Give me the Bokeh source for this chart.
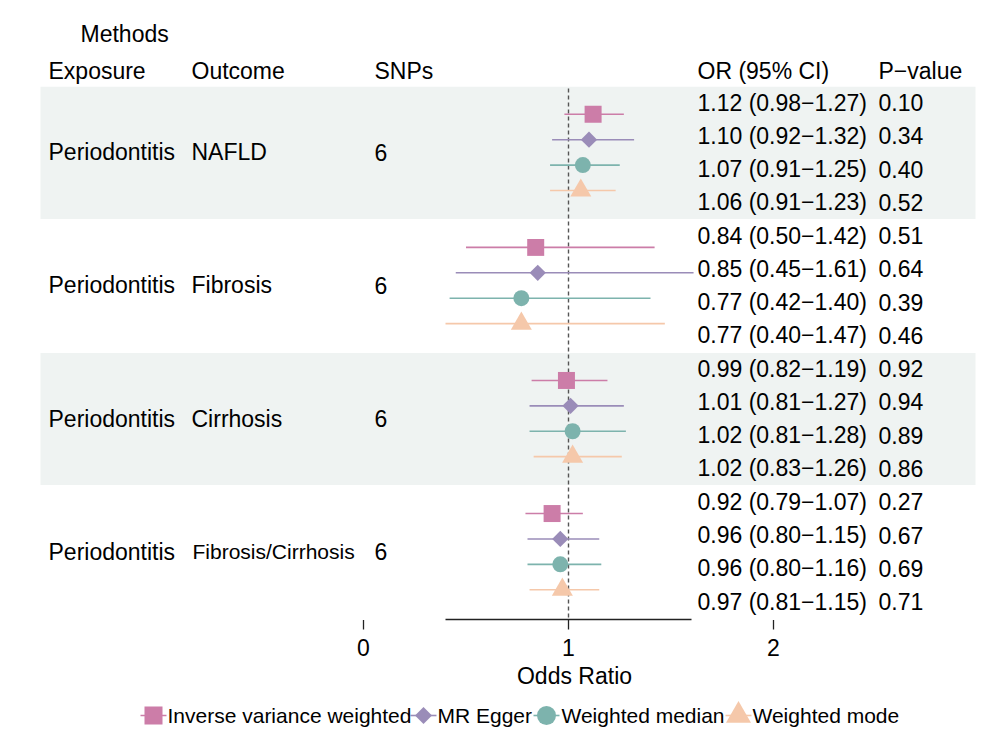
import numpy as np
from bokeh.plotting import figure
from bokeh.models import Range1d
from bokeh.core.properties import value
from bokeh.embed import file_html
from bokeh.resources import INLINE

# ---------------- data ----------------
exposures = ["Periodontitis", "Periodontitis", "Periodontitis", "Periodontitis"]
outcomes = ["NAFLD", "Fibrosis", "Cirrhosis", "Fibrosis/Cirrhosis"]
snps = [6, 6, 6, 6]
methods = ["Inverse variance weighted", "MR Egger", "Weighted median", "Weighted mode"]
or_est = [[1.12, 1.10, 1.07, 1.06],
          [0.84, 0.85, 0.77, 0.77],
          [0.99, 1.01, 1.02, 1.02],
          [0.92, 0.96, 0.96, 0.97]]
or_low = [[0.98, 0.92, 0.91, 0.91],
          [0.50, 0.45, 0.42, 0.40],
          [0.82, 0.81, 0.81, 0.83],
          [0.79, 0.80, 0.80, 0.81]]
or_high = [[1.27, 1.32, 1.25, 1.23],
           [1.42, 1.61, 1.40, 1.47],
           [1.19, 1.27, 1.28, 1.26],
           [1.07, 1.15, 1.16, 1.15]]
p_values = [[0.10, 0.34, 0.40, 0.52],
            [0.51, 0.64, 0.39, 0.46],
            [0.92, 0.94, 0.89, 0.86],
            [0.27, 0.67, 0.69, 0.71]]
col_headers = ["Exposure", "Outcome", "SNPs", "OR (95% CI)", "P\u2212value"]
top_header = "Methods"
x_ticks = [0, 1, 2]
x_tick_labels = ["0", "1", "2"]
x_lim = [0.4, 1.6]
ref_value = 1
x_label = "Odds Ratio"

# ---------------- style ----------------
method_colors = ["#CC7DA8", "#9A8CB8", "#7DB3AD", "#F5C8AA"]
method_markers = ["square", "square", "circle", "triangle"]
method_angles = [0, np.pi / 4, 0, 0]
method_sizes = [17, 11.5, 16, 21]
legend_sizes = [18, 12, 19, 25]
band_color = "#eff3f2"
FONT = value("Liberation Sans")
FS = "23px"

W, H = 984, 738
PAGE = 0
XPX0, XPPU = 363.0, 205.0  # screenshot px of x=0, px per OR unit


def dx(px):
    return (px - XPX0) / XPPU


def dy(px):
    return -float(px)


p = figure(width=W, height=H, output_backend="svg", toolbar_location=None,
           x_range=Range1d(dx(PAGE), dx(PAGE + W)),
           y_range=Range1d(dy(PAGE + H), dy(PAGE)),
           min_border=0, x_axis_location=None, y_axis_location=None)
p.grid.visible = False
p.outline_line_color = None
p.background_fill_color = "white"

ROW0, ROWH = 102.0, 33.27
n_groups = len(outcomes)
n_meth = len(methods)

# background bands for alternating groups
band_l, band_r, band_b, band_t = [], [], [], []
for g in range(n_groups):
    if g % 2 == 0:
        top = ROW0 + ROWH * (4 * g) - ROWH / 2 + 1
        bot = ROW0 + ROWH * (4 * g + 3) + ROWH / 2
        band_l.append(dx(40)); band_r.append(dx(975))
        band_t.append(dy(top)); band_b.append(dy(bot))
p.quad(left=band_l, right=band_r, top=band_t, bottom=band_b,
       fill_color=band_color, line_color=None)


def txt(xs, ys, texts, size=FS, align="left"):
    p.text(x=xs, y=ys, text=texts, text_font=FONT, text_font_size=size,
           text_baseline="middle", text_align=align, text_color="black")


# header texts
txt([dx(80)], [dy(33)], [top_header])
hx = [48, 191, 374, 697, 878]
txt([dx(v) for v in hx], [dy(70)] * len(col_headers), col_headers)

# group texts
gy = [dy(ROW0 + ROWH * (4 * g + 1.5)) for g in range(n_groups)]
txt([dx(48)] * n_groups, gy, exposures)
txt([dx(191)] * 3, gy[:3], outcomes[:3])
txt([dx(192)], gy[3:], outcomes[3:], size="21px")
txt([dx(374)] * n_groups, gy, [str(s) for s in snps])

# OR / p-value texts per row
or_txt, p_txt, ry = [], [], []
for g in range(n_groups):
    for m in range(n_meth):
        or_txt.append(f"{or_est[g][m]:.2f} ({or_low[g][m]:.2f}\u2212{or_high[g][m]:.2f})")
        p_txt.append(f"{p_values[g][m]:.2f}")
        ry.append(dy(ROW0 + ROWH * (4 * g + m)))
txt([dx(697)] * len(or_txt), ry, or_txt)
txt([dx(878)] * len(p_txt), ry, p_txt)

# reference dashed line
p.segment(x0=[ref_value], x1=[ref_value], y0=[dy(88)], y1=[dy(619)],
          line_color="#555555", line_width=1.4, line_dash="4 3")

# CI lines and markers
MSTEP = 25.4
for m in range(n_meth):
    xs = [or_est[g][m] for g in range(n_groups)]
    lo = [or_low[g][m] for g in range(n_groups)]
    hi = [or_high[g][m] for g in range(n_groups)]
    ys = [dy(ROW0 + ROWH * (4 * g + 1.5) + (m - 1.5) * MSTEP) for g in range(n_groups)]
    p.segment(x0=lo, x1=hi, y0=ys, y1=ys, line_color=method_colors[m], line_width=1.6)
    p.scatter(x=xs, y=ys, marker=method_markers[m], size=method_sizes[m],
              angle=method_angles[m], fill_color=method_colors[m], line_color=None)

# x axis (manual, forest style)
p.segment(x0=[x_lim[0]], x1=[x_lim[1]], y0=[dy(619)], y1=[dy(619)],
          line_color="#222222", line_width=1.3)
p.segment(x0=x_ticks, x1=x_ticks, y0=[dy(619.5)] * len(x_ticks), y1=[dy(629)] * len(x_ticks),
          line_color="#222222", line_width=1.3)
txt(x_ticks, [dy(647)] * len(x_ticks), x_tick_labels, align="center")
txt([dx(574)], [dy(675)], [x_label], align="center")

# legend (manual)
leg_cx = [153, 423, 546, 738]
leg_tx = [167, 437, 561, 752]
LY = 715
for m in range(n_meth):
    p.segment(x0=[dx(leg_cx[m] - 13)], x1=[dx(leg_cx[m] + 13)], y0=[dy(LY)], y1=[dy(LY)],
              line_color=method_colors[m], line_width=1.6)
    p.scatter(x=[dx(leg_cx[m])], y=[dy(LY)], marker=method_markers[m], size=legend_sizes[m],
              angle=method_angles[m], fill_color=method_colors[m], line_color=None)
txt([dx(v) for v in leg_tx], [dy(LY)] * n_meth, methods, size="21px")

open("out.html", "w").write(file_html(p, INLINE))
